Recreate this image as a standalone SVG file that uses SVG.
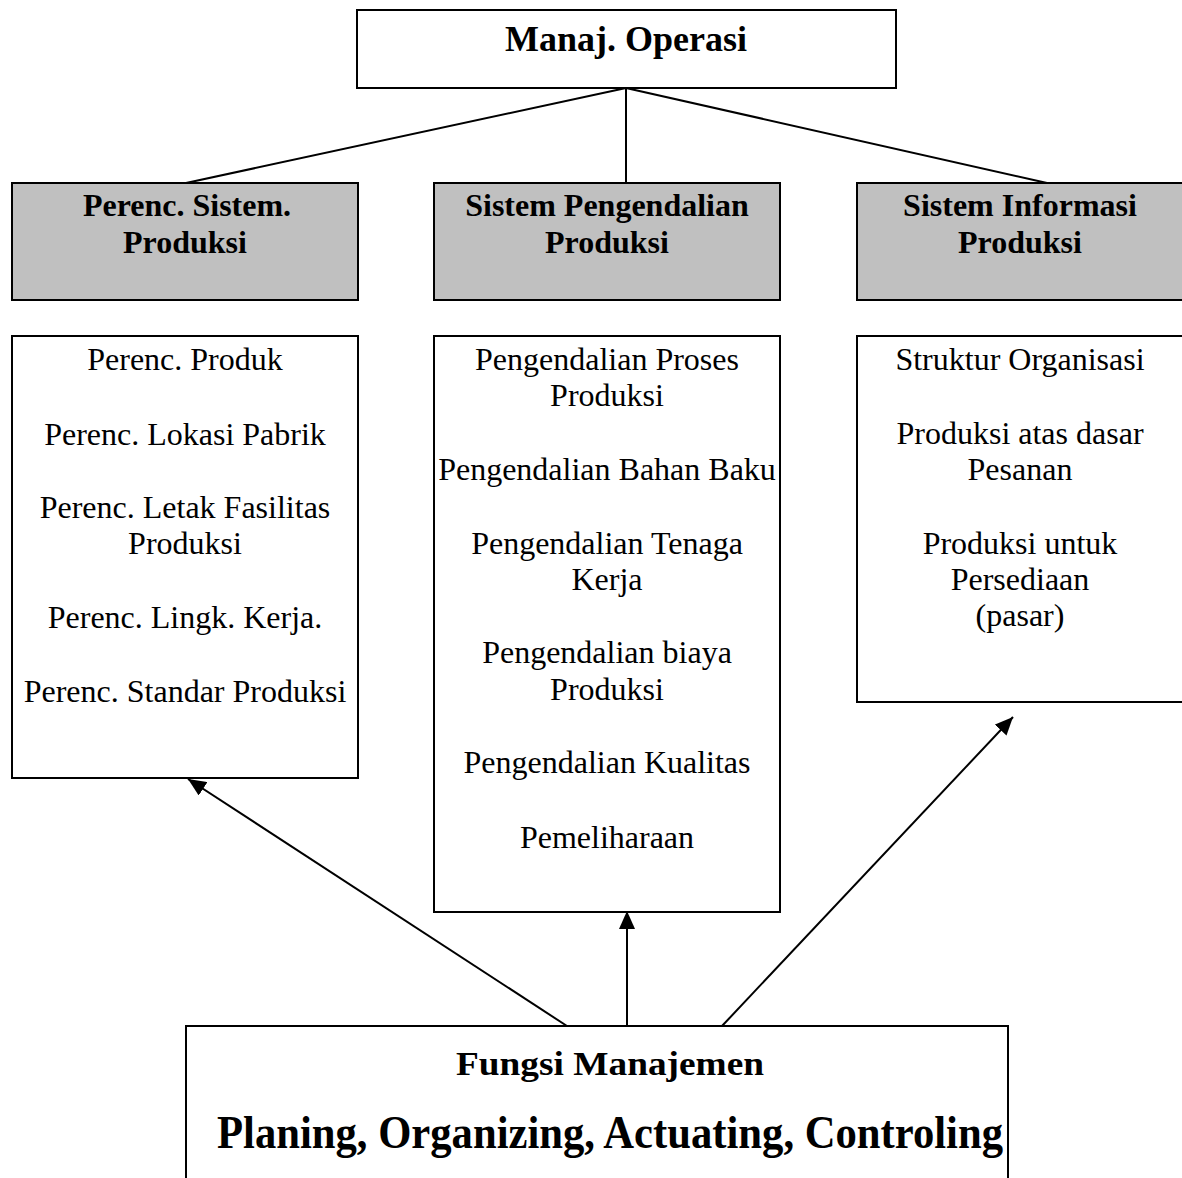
<svg xmlns="http://www.w3.org/2000/svg" width="1182" height="1178" viewBox="0 0 1182 1178">
<style>
.box{fill:#fff;stroke:#000;stroke-width:2}
.gray{fill:#c0c0c0;stroke:#000;stroke-width:2}
.t{font-family:"Liberation Serif","Times New Roman",serif;font-size:32px;text-anchor:middle;fill:#000}
.b{font-weight:bold}
.ln{stroke:#000;stroke-width:2;fill:none}
</style>
<defs>
<marker id="ah" markerUnits="userSpaceOnUse" markerWidth="20" markerHeight="16" refX="18" refY="8" orient="auto">
<path d="M0,0 L18,8 L0,16 Z" fill="#000"/>
</marker>
</defs>
<rect x="0" y="0" width="1182" height="1178" fill="#fff"/>
<g id="top">
<rect class="box" x="357" y="10" width="539" height="78"/>
<text class="t b" x="626" y="51" style="font-size:36px">Manaj. Operasi</text>
</g>
<g id="h1">
<rect class="gray" x="12" y="183" width="346" height="117"/>
<text class="t b" x="187" y="216">Perenc. Sistem.</text>
<text class="t b" x="185" y="253">Produksi</text>
</g>
<g id="h2">
<rect class="gray" x="434" y="183" width="346" height="117"/>
<text class="t b" x="607" y="216">Sistem Pengendalian</text>
<text class="t b" x="607" y="253">Produksi</text>
</g>
<g id="h3">
<rect class="gray" x="857" y="183" width="346" height="117"/>
<text class="t b" x="1020" y="216">Sistem Informasi</text>
<text class="t b" x="1020" y="253">Produksi</text>
</g>
<g id="c1">
<rect class="box" x="12" y="336" width="346" height="442"/>
<text class="t" x="185" y="370">Perenc. Produk</text>
<text class="t" x="185" y="445">Perenc. Lokasi Pabrik</text>
<text class="t" x="185" y="518">Perenc. Letak Fasilitas</text>
<text class="t" x="185" y="554">Produksi</text>
<text class="t" x="185" y="628">Perenc. Lingk. Kerja.</text>
<text class="t" x="185" y="702">Perenc. Standar Produksi</text>
</g>
<g id="c2">
<rect class="box" x="434" y="336" width="346" height="576"/>
<text class="t" x="607" y="370">Pengendalian Proses</text>
<text class="t" x="607" y="406">Produksi</text>
<text class="t" x="607" y="480">Pengendalian Bahan Baku</text>
<text class="t" x="607" y="554">Pengendalian Tenaga</text>
<text class="t" x="607" y="590">Kerja</text>
<text class="t" x="607" y="663">Pengendalian biaya</text>
<text class="t" x="607" y="700">Produksi</text>
<text class="t" x="607" y="773">Pengendalian Kualitas</text>
<text class="t" x="607" y="848">Pemeliharaan</text>
</g>
<g id="c3">
<rect class="box" x="857" y="336" width="346" height="366"/>
<text class="t" x="1020" y="370">Struktur Organisasi</text>
<text class="t" x="1020" y="444">Produksi atas dasar</text>
<text class="t" x="1020" y="480">Pesanan</text>
<text class="t" x="1020" y="554">Produksi untuk</text>
<text class="t" x="1020" y="590">Persediaan</text>
<text class="t" x="1020" y="626">(pasar)</text>
</g>
<g id="bottom">
<rect class="box" x="186" y="1026" width="822" height="200"/>
<text class="t b" x="610" y="1075" style="font-size:34px" textLength="308" lengthAdjust="spacingAndGlyphs">Fungsi Manajemen</text>
<text class="t b" x="610" y="1148" style="font-size:46px" textLength="786" lengthAdjust="spacingAndGlyphs">Planing, Organizing, Actuating, Controling</text>
</g>
<g id="connectors">
<line class="ln" x1="626" y1="88" x2="186" y2="183"/>
<line class="ln" x1="626" y1="88" x2="626" y2="183"/>
<line class="ln" x1="626" y1="88" x2="1047" y2="183"/>
<line class="ln" x1="567" y1="1026" x2="188" y2="779" marker-end="url(#ah)"/>
<line class="ln" x1="627" y1="1026" x2="627" y2="911" marker-end="url(#ah)"/>
<line class="ln" x1="722" y1="1026" x2="1013" y2="717" marker-end="url(#ah)"/>
</g>
</svg>
